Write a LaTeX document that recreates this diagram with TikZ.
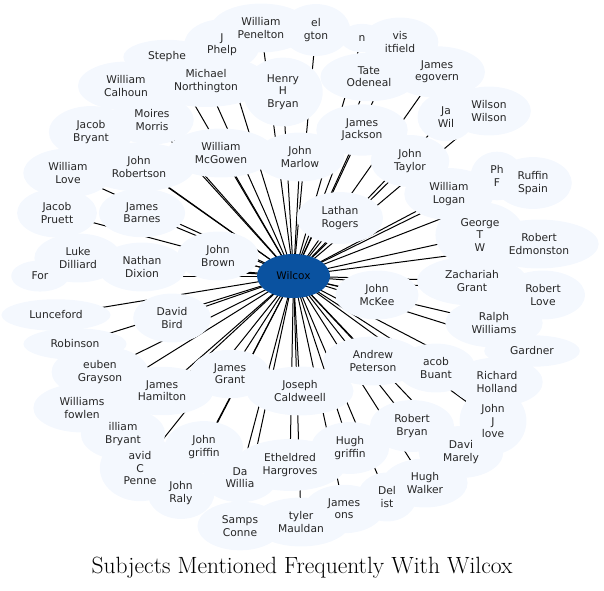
\documentclass[tikz,border=0pt]{standalone}
\usepackage{fontspec}
\setsansfont{DejaVu Sans}
\usetikzlibrary{shapes.geometric}
\pgfdeclarelayer{bg}
\pgfsetlayers{bg,main}
\definecolor{pale}{RGB}{244,248,254}
\definecolor{hub}{RGB}{10,82,160}
\tikzset{
  ell/.style={ellipse, fill=pale, draw=none, inner xsep=12pt, inner ysep=7pt,
    align=center, font=\sffamily\fontsize{10.7}{12.3}\selectfont, text opacity=0},
  lbl/.style={inner sep=0pt, align=center, font=\sffamily\fontsize{10.7}{12.3}\selectfont, text=black!85},
  spoke/.style={line width=1pt, black},
  hubnode/.style={ellipse, fill=hub, draw=none, minimum width=73pt, minimum height=44pt,
    font=\sffamily\fontsize{10.5}{12}\selectfont, text=black},
  titletext/.style={font=\fontsize{23.5}{27}\selectfont}
}
\begin{document}
\begin{tikzpicture}[x=1pt,y=-1pt]
\useasboundingbox (0,0) rectangle (604,590);
\def\items{a1/261/28/{William\\Penelton}, a2/316/30/{el\\gton}, a3/362/38/{n},
a4/400/42/{vis\\itfield}, a5/167/57/{Stephe}, a6/222/45/{J\\Phelp},
a7/206/81/{Michael\\Northington}, a8/283/92/{Henry\\H\\Bryan}, a9/369/77/{Tate\\Odeneal},
a10/437/72/{James\\egovern}, a11/126/86/{William\\Calhoun}, a12/152/120/{Moires\\Morris},
a13/91/132/{Jacob\\Bryant}, a14/221/153/{William\\McGowen}, a15/300/157/{John\\Marlow},
a16/362/130/{James\\Jackson}, a17/446/117/{Ja\\Wil}, a18/489/111/{Wilson\\Wilson},
a19/410/161/{John\\Taylor}, a20/497/176/{Ph\\F}, a21/533/183/{Ruffin\\Spain},
a22/449/194/{William\\Logan}, a23/68/173/{William\\Love}, a24/139/167/{John\\Robertson},
a25/57/213/{Jacob\\Pruett}, a26/142/213/{James\\Barnes}, a27/340/218/{Lathan\\Rogers},
a28/480/235/{George\\T\\W}, a29/539/244/{Robert\\Edmonston}, a30/78/258/{Luke\\Dilliard},
a31/40/276/{For}, a32/142/267/{Nathan\\Dixion}, a33/218/256/{John\\Brown},
a34/472/281/{Zachariah\\Grant}, a35/543/295/{Robert\\Love}, a36/377/295/{John\\McKee},
a37/56/315/{Lunceford}, a38/172/318/{David\\Bird}, a39/494/323/{Ralph\\Williams},
a40/75/344/{Robinson}, a41/373/361/{Andrew\\Peterson}, a42/532/351/{Gardner},
a43/436/368/{acob\\Buant}, a44/497/382/{Richard\\Holland}, a45/100/372/{euben\\Grayson},
a46/162/391/{James\\Hamilton}, a47/230/374/{James\\Grant}, a48/300/391/{Joseph\\Caldweell},
a49/82/408/{Williams\\fowlen}, a50/123/434/{illiam\\Bryant}, a51/493/421/{John\\J\\love},
a52/412/426/{Robert\\Bryan}, a53/204/447/{John\\griffin}, a54/350/448/{Hugh\\griffin},
a55/461/452/{Davi\\Marely}, a56/140/468/{avid\\C\\Penne}, a57/290/465/{Etheldred\\Hargroves},
a58/240/478/{Da\\Willia}, a59/181/493/{John\\Raly}, a60/425/483/{Hugh\\Walker},
a61/387/497/{Del\\ist}, a62/344/509/{James\\ons}, a63/240/526/{Samps\\Conne},
a64/301/522/{tyler\\Mauldan}}
% hub coordinate for spokes
\coordinate (hc) at (293.5,276);
% pale ellipses
\foreach \n/\x/\y/\t in \items {\node[ell] (\n) at (\x,\y) {\t};}
% spokes behind everything
\begin{pgfonlayer}{bg}
\foreach \n/\x/\y/\t in \items {\draw[spoke] (hc) -- (\n.center);}
\end{pgfonlayer}
% labels
\foreach \n/\x/\y/\t in \items {\node[lbl] (\n-t) at (\x,\y) {\t};}
% hub
\node[hubnode] (w) at (hc) {Wilcox};
% title
\node[titletext] (title) at (302,568) {Subjects Mentioned Frequently With Wilcox};
\end{tikzpicture}
\end{document}
